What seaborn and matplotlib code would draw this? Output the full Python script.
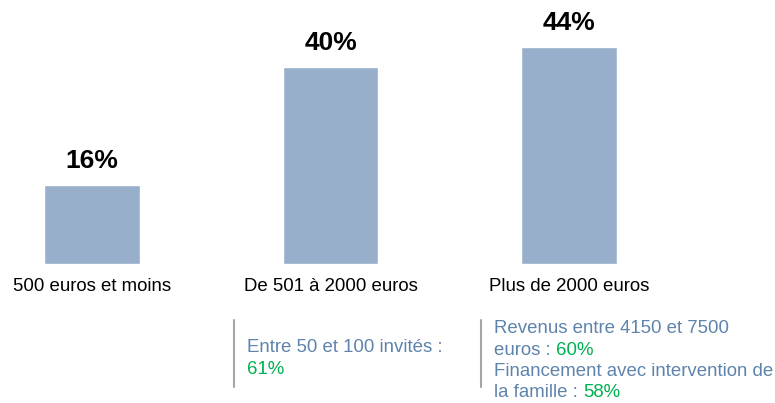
import matplotlib
matplotlib.use('Agg')
import matplotlib.pyplot as plt
from matplotlib.lines import Line2D
import seaborn as sns
import pandas as pd

# data
categories = ['500 euros et moins', 'De 501 à 2000 euros', 'Plus de 2000 euros']
values = [16, 40, 44]

# notes under the 2nd and 3rd bars: (text, value) pairs, value may be None
note_mid = [('Entre 50 et 100 invités :', None), ('', '61%')]
note_right = [('Revenus entre 4150 et 7500', None), ('euros : ', '60%'),
              ('Financement avec intervention de', None), ('la famille : ', '58%')]

bar_color = '#97AFCA'
note_blue = '#5E83AC'
note_green = '#00B050'

sns.set_style('white')
plt.rcParams['font.family'] = ['Liberation Sans', 'DejaVu Sans']

W, H = 775, 403
fig = plt.figure(figsize=(W / 100, H / 100), dpi=100)
ax = fig.add_axes([0, 139 / H, 1, 264 / H])

df = pd.DataFrame({'cat': categories, 'val': values})
sns.barplot(data=df, x='cat', y='val', color=bar_color, width=0.4, ax=ax, saturation=1)

ax.set_xlim(-0.386, 2.864)
ax.set_ylim(0, 53.6)
ax.bar_label(ax.containers[0], labels=[f'{v}%' for v in values], padding=8.5,
             fontsize=19, fontweight='bold', color='black')
ax.set_xlabel('')
ax.set_ylabel('')
ax.set_yticks([])
ax.tick_params(axis='x', length=0, pad=10, labelsize=13.4, labelcolor='black')
sns.despine(ax=ax, left=True, bottom=True)
ax.patch.set_alpha(0)


def draw_note(x_px, baselines, lines):
    for (txt, val), y_px in zip(lines, baselines):
        t = fig.text(x_px / W, 1 - y_px / H, txt or val, fontsize=13.4,
                     color=note_blue if txt else note_green,
                     va='baseline', ha='left')
        if txt and val is not None:
            # value in green right after the blue text
            ax.annotate(val, xy=(1, 0), xycoords=t, fontsize=13.4,
                        color=note_green, va='bottom', ha='left',
                        annotation_clip=False)


# separator lines
for x_px in (234, 481):
    fig.add_artist(Line2D([x_px / W, x_px / W], [1 - 320 / H, 1 - 387 / H],
                          color='#A6A6A6', lw=1.5, transform=fig.transFigure))

draw_note(247, [352, 374], note_mid)
draw_note(494, [333, 355, 376, 397], note_right)

fig.savefig('out.png', dpi=100)
